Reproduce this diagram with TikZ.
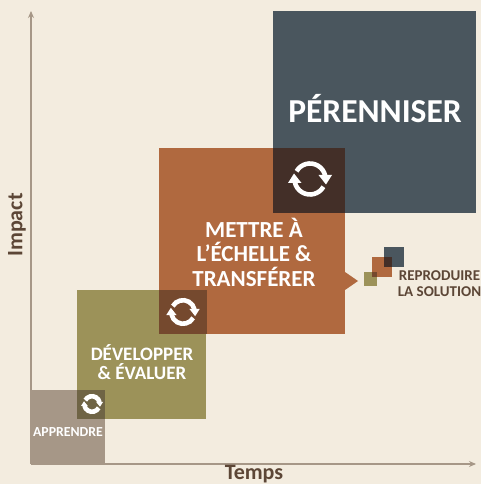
\documentclass[tikz,border=0pt]{standalone}
\usepackage{fontspec}
\setmainfont{Carlito}
\usepackage{tikz}
\usetikzlibrary{arrows.meta}

\definecolor{fondcol}{HTML}{F3ECDF}
\definecolor{bleucol}{HTML}{4A565E}
\definecolor{rouillecol}{HTML}{B0693F}
\definecolor{olivecol}{HTML}{9C9259}
\definecolor{taupecol}{HTML}{A69787}
\definecolor{axecol}{HTML}{A69787}
\definecolor{textecol}{HTML}{5C4636}
\definecolor{sombreA}{HTML}{6F6445}
\definecolor{sombreB}{HTML}{75492E}
\definecolor{sombreC}{HTML}{432F28}

\tikzset{
	carre/.style={anchor=south west,inner sep=0pt,outer sep=0pt,draw=none},
	titre/.style={white,font=\bfseries,align=center,inner sep=0pt},
	legende/.style={textecol,font=\bfseries,align=center,inner sep=0pt},
	cycleicon/.pic={
		\draw [white,line width=4.6pt] (150:15.5) arc (150:12:15.5);
		\draw [white,line width=4.6pt] (-30:15.5) arc (-30:-168:15.5);
		\fill [white] (8.5,4) -- (22,4) -- (16,-5.5) -- cycle;
		\fill [white] (-8.5,-4) -- (-22,-4) -- (-16,5.5) -- cycle;
	}
}

\begin{document}
\begin{tikzpicture}[x=1pt,y=1pt,>={Stealth[length=7pt,width=6pt]}]
	
	\useasboundingbox [fill=fondcol] (0,0) rectangle (481,484);
	
	\coordinate (origine) at (31,20);
	\coordinate (haut) at (31,473);
	\coordinate (droite) at (476,20);
	\draw [->,axecol,line width=1.6pt] (origine) -- (haut);
	\draw [->,axecol,line width=1.6pt] (origine) -- (droite);
	
	% les quatre grands carres
	\node (apprendre) [carre,fill=taupecol,minimum width=74pt,minimum height=74pt] at (31,20) {};
	\node (developper) [carre,fill=olivecol,minimum width=129pt,minimum height=129pt] at (77,65) {};
	\node (mettre) [carre,fill=rouillecol,minimum width=186pt,minimum height=186pt] at (159,150) {};
	\node (perenniser) [carre,fill=bleucol,minimum width=203pt,minimum height=202pt] at (273,271) {};
	
	% les recouvrements
	\node (recouvA) [carre,fill=sombreA,minimum width=28pt,minimum height=29pt] at (77,65) {};
	\node (recouvB) [carre,fill=sombreB,minimum width=48pt,minimum height=44pt] at (159,150) {};
	\node (recouvC) [carre,fill=sombreC,minimum width=72pt,minimum height=65pt] at (273,271) {};
	
	\pic at (92,80) [scale=0.5] {cycleicon};
	\pic at (183,172) [scale=0.76] {cycleicon};
	\pic at (310,305) {cycleicon};
	
	% la fleche vers la solution
	\fill [rouillecol] (345,212) -- (358,203) -- (345,194) -- cycle;
	
	% les petits carres
	\node (petitbleu) [carre,fill=bleucol,minimum width=20pt,minimum height=20pt] at (384,217) {};
	\node (petitrouille) [carre,fill=rouillecol,minimum width=20pt,minimum height=20pt] at (372,207) {};
	\node (petitolive) [carre,fill=olivecol,minimum width=13pt,minimum height=14pt] at (364,198) {};
	\node (petitA) [carre,fill=sombreC,minimum width=8pt,minimum height=10pt] at (384,217) {};
	\node (petitB) [carre,fill=sombreB,minimum width=5pt,minimum height=5pt] at (372,207) {};
	
	\node (tperenniser) [titre,font=\bfseries\fontsize{33.5}{38}\selectfont] at (375,375) {PÉRENNISER};
	\node (tmettre) [titre,font=\bfseries\fontsize{23}{24.5}\selectfont] at (254,232) {METTRE À\\L’ÉCHELLE \&\\TRANSFÉRER};
	\node (tdevelopper) [titre,font=\bfseries\fontsize{19}{19.5}\selectfont] at (142,122) {DÉVELOPPER\\\& ÉVALUER};
	\node (tapprendre) [titre,font=\bfseries\fontsize{13.8}{15}\selectfont] at (68,52) {APPRENDRE};
	\node (tsolution) [legende,font=\bfseries\fontsize{15}{16}\selectfont] at (439.5,200) {REPRODUIRE\\LA SOLUTION};
	
	\node (ttemps) [legende,font=\bfseries\fontsize{22}{24}\selectfont] at (254,9.5) {Temps};
	\node (timpact) [legende,rotate=90,font=\bfseries\fontsize{22}{24}\selectfont] at (17,259) {Impact};
	
\end{tikzpicture}
\end{document}
